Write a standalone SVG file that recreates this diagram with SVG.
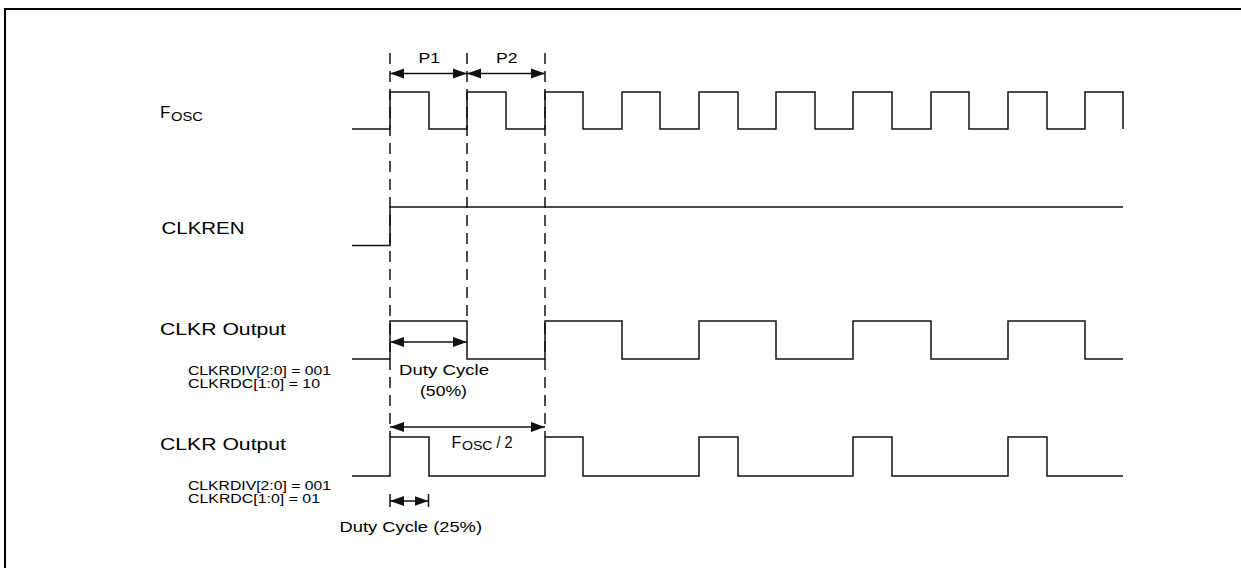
<svg xmlns="http://www.w3.org/2000/svg" width="1241" height="568" viewBox="0 0 1241 568">
<style>
text{font-family:"Liberation Sans",Arial,sans-serif;fill:#000}
.lbl{font-size:17px}
.sm{font-size:12px}
.mid{font-size:15.5px}
.wave{fill:none;stroke:#111;stroke-width:1.5}
.dash{fill:none;stroke:#111;stroke-width:1.5;stroke-dasharray:11 7}
.arr{fill:none;stroke:#111;stroke-width:1.5;marker-start:url(#ah);marker-end:url(#ah)}
.tick{fill:none;stroke:#111;stroke-width:1.5}
</style>
<defs>
<marker id="ah" markerUnits="userSpaceOnUse" markerWidth="15" markerHeight="11" refX="14" refY="5" orient="auto-start-reverse" viewBox="0 0 15 10">
<path d="M0,0 L14,5 L0,10 z" fill="#111"/>
</marker>
</defs>
<rect width="1241" height="568" fill="#fff"/>
<path id="frame" d="M5,568 V9 H1241" fill="none" stroke="#000" stroke-width="2"/>

<g id="fosc">
<text class="lbl" x="160" y="117.5">F</text>
<text x="171" y="121" font-size="12.5" textLength="32" lengthAdjust="spacingAndGlyphs">OSC</text>
<path class="wave" d="M352,129 H390 V92 H429 V129 H467 V92 H506 V129 H545 V92 H583 V129 H622 V92 H660 V129 H699 V92 H738 V129 H776 V92 H815 V129 H853 V92 H892 V129 H931 V92 H969 V129 H1008 V92 H1047 V129 H1085 V92 H1123 V129"/>
</g>

<g id="clkren">
<text class="lbl" x="161.5" y="234" textLength="83" lengthAdjust="spacingAndGlyphs">CLKREN</text>
<path class="wave" d="M352,245.5 H390 V207 H1123"/>
</g>

<g id="clkr1">
<text class="lbl" x="160" y="335" textLength="126" lengthAdjust="spacingAndGlyphs">CLKR Output</text>
<text class="sm" x="188" y="374.5" textLength="143" lengthAdjust="spacingAndGlyphs">CLKRDIV[2:0] = 001</text>
<text class="sm" x="188" y="387.5" textLength="132" lengthAdjust="spacingAndGlyphs">CLKRDC[1:0] = 10</text>
<path class="wave" d="M352,359 H390 V321 H467 V359 H545 V321 H622 V359 H699 V321 H776 V359 H853 V321 H931 V359 H1008 V321 H1085 V359 H1123"/>
</g>

<g id="clkr2">
<text class="lbl" x="160" y="450" textLength="126" lengthAdjust="spacingAndGlyphs">CLKR Output</text>
<text class="sm" x="188" y="489.5" textLength="143" lengthAdjust="spacingAndGlyphs">CLKRDIV[2:0] = 001</text>
<text class="sm" x="188" y="502.5" textLength="132" lengthAdjust="spacingAndGlyphs">CLKRDC[1:0] = 01</text>
<path class="wave" d="M352,476 H390 V437 H429 V476 H545 V437 H583 V476 H699 V437 H738 V476 H853 V437 H892 V476 H1008 V437 H1047 V476 H1123"/>
</g>

<g id="connectors">
<path class="dash" d="M390,53 V437"/>
<path class="dash" d="M467,53 V321"/>
<path class="dash" d="M545,53 V437"/>
<path class="arr" d="M390,73.5 H467"/>
<path class="arr" d="M467,73.5 H545"/>
<path class="arr" d="M390,342 H467"/>
<path class="arr" d="M390,427 H545"/>
<path class="tick" d="M390,494 V507 M428.5,494 V507"/>
<path class="arr" d="M390,501 H428.5"/>
</g>

<g id="labels">
<text x="418.5" y="62.5" font-size="14" textLength="21.5" lengthAdjust="spacingAndGlyphs">P1</text>
<text x="496" y="62.5" font-size="14" textLength="21.5" lengthAdjust="spacingAndGlyphs">P2</text>
<text class="mid" x="399" y="375" textLength="90" lengthAdjust="spacingAndGlyphs">Duty Cycle</text>
<text class="mid" x="420" y="396" textLength="47" lengthAdjust="spacingAndGlyphs">(50%)</text>
<text x="451.5" y="447.5" font-size="16">F</text>
<text x="462" y="450" font-size="12" textLength="30.5" lengthAdjust="spacingAndGlyphs">OSC</text>
<text x="496.5" y="447.5" font-size="16" textLength="16" lengthAdjust="spacingAndGlyphs">/ 2</text>
<text class="mid" x="339.5" y="532" textLength="142.5" lengthAdjust="spacingAndGlyphs">Duty Cycle (25%)</text>
</g>
</svg>
